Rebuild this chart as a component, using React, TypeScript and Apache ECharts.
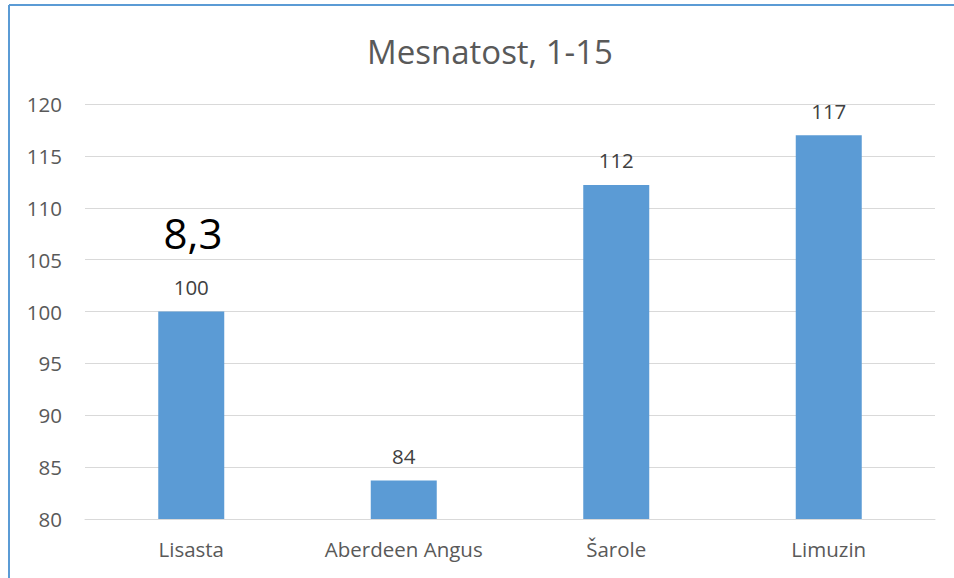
import React, { useEffect, useRef } from "react";
import * as echarts from "echarts";

const categories = ["Lisasta", "Aberdeen Angus", "Šarole", "Limuzin"];
const values = [100, 83.7, 112.2, 117];
const valueLabels = ["100", "84", "112", "117"];
const titleText = "Mesnatost, 1-15";
const annotation = "8,3";

export default function App() {
  const ref = useRef<HTMLDivElement>(null);
  useEffect(() => {
    if (!ref.current) return;
    const chart = echarts.init(ref.current, null, { renderer: "svg" });
    const font = "'Open Sans', 'Noto Sans', sans-serif";
    chart.setOption({
      animation: false,
      backgroundColor: "#ffffff",
      title: {
        text: titleText,
        left: 362,
        top: 30,
        textStyle: { fontFamily: font, fontSize: 33, fontWeight: "normal", color: "#595959" },
      },
      grid: { left: 85, right: 19, top: 104, bottom: 59 },
      xAxis: {
        type: "category",
        data: categories,
        axisLine: { lineStyle: { color: "#D9D9D9", width: 1 } },
        axisTick: { show: false },
        axisLabel: { fontFamily: font, fontSize: 20.5, color: "#595959", margin: 19 },
      },
      yAxis: {
        type: "value",
        min: 80,
        max: 120,
        interval: 5,
        axisLine: { show: false },
        axisTick: { show: false },
        axisLabel: { fontFamily: font, fontSize: 20.5, color: "#595959", margin: 23 },
        splitLine: { lineStyle: { color: "#D9D9D9", width: 1 } },
      },
      series: [
        {
          type: "bar",
          data: values,
          barWidth: 66,
          itemStyle: { color: "#5B9BD5" },
          label: {
            show: true,
            position: "top",
            distance: 14,
            fontFamily: font,
            fontSize: 20.5,
            color: "#404040",
            formatter: (p: any) => valueLabels[p.dataIndex],
          },
        },
      ],
      graphic: [
        {
          type: "text",
          x: 193,
          y: 232,
          style: {
            text: annotation,
            fontFamily: font,
            fontSize: 42,
            fill: "#000000",
            textAlign: "center",
            textVerticalAlign: "middle",
          },
        },
        {
          type: "line",
          shape: { x1: 9, y1: 5, x2: 954, y2: 5 },
          style: { stroke: "#5B9BD5", lineWidth: 2 },
        },
        {
          type: "line",
          shape: { x1: 9, y1: 5, x2: 9, y2: 578 },
          style: { stroke: "#5B9BD5", lineWidth: 2 },
        },
      ],
    });
    return () => chart.dispose();
  }, []);
  return (
    <div
      ref={ref}
      style={{ position: "fixed", left: 0, top: 0, width: 954, height: 578 }}
    />
  );
}
